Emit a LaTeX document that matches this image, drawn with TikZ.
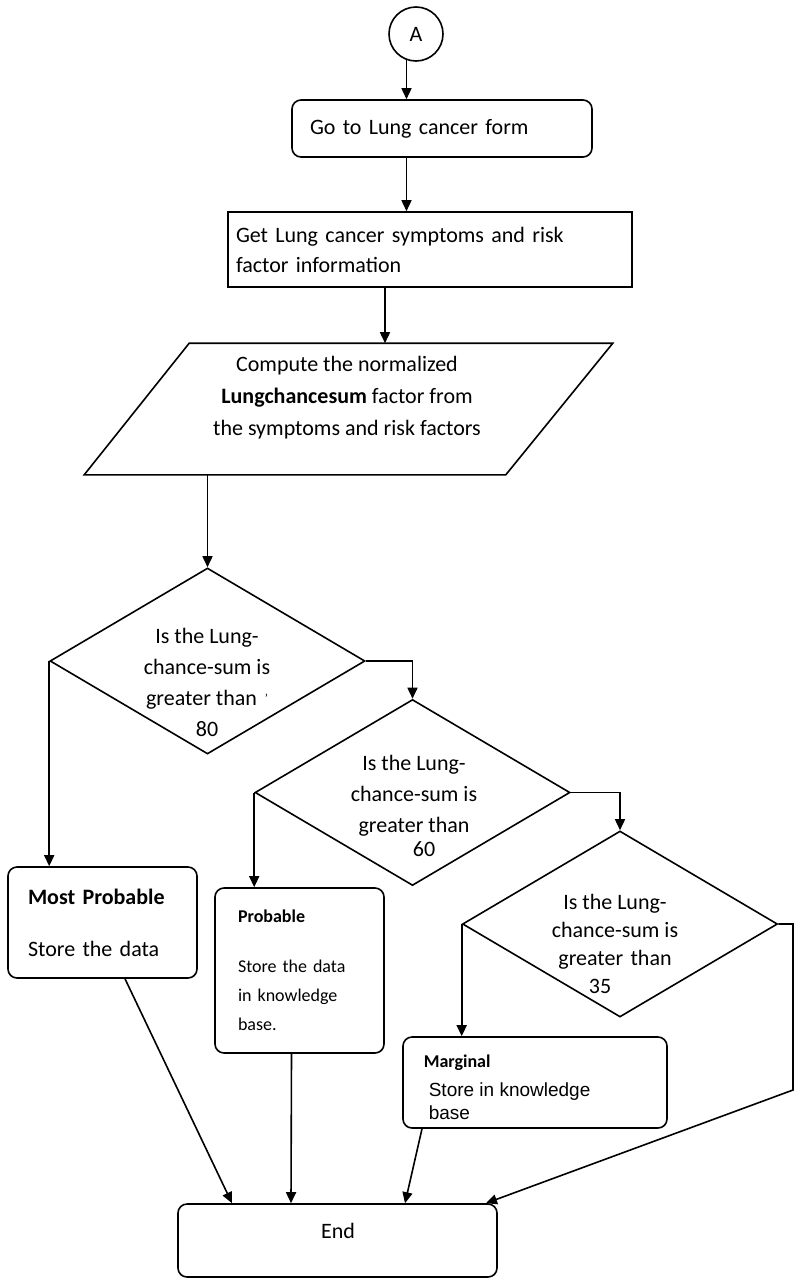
\documentclass[tikz,border=0pt]{standalone}
\usepackage{fontspec}
\setmainfont{Carlito}
\newfontfamily\arialf{Liberation Sans}
\usetikzlibrary{arrows.meta,shapes.geometric,calc}
\begin{document}
\begin{tikzpicture}[x=1pt,y=-1pt,
  line width=1.6pt,
  arr/.style={-{Triangle[length=11pt,width=10pt]}},
  rbox/.style={draw, rounded corners=9pt, inner sep=0pt},
  dia/.style={draw, diamond, inner sep=0pt, minimum width=315pt, minimum height=186pt},
  txt/.style={inner sep=0pt, align=center, font=\fontsize{22}{31}\selectfont},
]
\useasboundingbox (0,0) rectangle (795,1280);

% start connector
\node[draw, circle, minimum size=54pt, inner sep=0pt, font=\fontsize{22}{22}\selectfont] (A) at (416,34) {A};

% box 1
\node[rbox, minimum width=300pt, minimum height=57pt, inner xsep=18pt, text width=264pt, align=left,
      font=\fontsize{22}{30}\selectfont] (b1) at (442,128.5) {Go to Lung cancer form};

% box 2
\node[draw, inner sep=0pt, inner xsep=8pt, minimum width=404pt, minimum height=75pt, text width=388pt, align=left,
      font=\fontsize{22}{30}\selectfont] (b2) at (430,249.5) {Get Lung cancer symptoms and risk\\factor information};

% parallelogram
\node[inner sep=0pt, minimum width=527pt, minimum height=130pt] (par) at (348.5,409) {};
\draw ($(par.north west)+(105,0)$) -- (par.north east) -- ($(par.south east)+(-107,0)$) -- (par.south west) -- cycle;
\node[txt, font=\fontsize{22}{32}\selectfont] (part) at (347,398) {Compute the normalized\\\textbf{Lungchancesum} factor from\\the symptoms and risk factors};

% diamonds
\node[dia] (d1) at (207.5,661) {};
\node[txt] (d1t) at (207,682) {Is the Lung-\\chance-sum is\\greater than\hspace{8pt}\raisebox{3pt}{\fontsize{12}{12}\selectfont '}\\80};

\node[dia] (d2) at (412.5,792.5) {};
\node[txt] (d2t) at (414,806) {Is the Lung-\\chance-sum is\\greater than\\[-7pt]\hspace*{20pt}60};

\node[dia] (d3) at (620,924) {};
\node[txt, font=\fontsize{22}{28}\selectfont] (d3t) at (615,944) {Is the Lung-\\chance-sum is\\greater\,\,than\\35\hspace*{30pt}};

% result boxes
\node[rbox, minimum width=189pt, minimum height=111pt, inner xsep=20pt, text width=149pt, align=left,
      font=\fontsize{22}{31}\selectfont] (mp) at (102.5,922.5) {\textbf{Most Probable}\\[21pt]Store the data};

\node[rbox, minimum width=169pt, minimum height=165pt, inner xsep=23pt, text width=123pt, align=left,
      font=\fontsize{18}{29}\selectfont] (pr) at (299.5,970.5) {\textbf{Probable}\\[21pt]Store the data\\in knowledge\\base.};

\node[rbox, minimum width=264pt, minimum height=91pt] (mg) at (535,1082.5) {};
\node[inner sep=0pt, anchor=west, font=\fontsize{18}{18}\selectfont\bfseries] (mgt) at (423,1063) {Marginal};
\node[inner sep=0pt, anchor=north west, align=left, font=\fontsize{19}{23}\arialf] (mgt2) at (428,1082) {Store in knowledge\\base};

\node[rbox, minimum width=319pt, minimum height=73pt] (end) at (337.5,1240.5) {};
\node[txt] (endt) at (338,1231) {End};

% connectors
\draw[arr] (A.-110) -- (A.-110 |- b1.north);
\draw[arr] (A.-110 |- b1.south) -- (A.-110 |- b2.north);
\coordinate (c1) at (385,0);
\draw[arr] (c1 |- b2.south) -- (c1 |- par.north);
\draw[arr] (d1.north |- par.south) -- (d1.north);
\draw[arr] (d1.east) -| (d2.north);
\draw[arr] (d2.east) -| (d3.north);
\draw[arr] (d1.west) -- (d1.west |- mp.north);
\draw[arr] (d2.west) -- (d2.west |- pr.north);
\draw[arr] (d3.west) -- (d3.west |- mg.north);
\draw[arr] ($(mp.south)+(22.5,0)$) -- ($(end.north)+(-105.5,0)$);
\draw[arr] ($(pr.south)+(-8,0)$) -- ($(end.north)+(-46.5,0)$);
\draw[arr] ($(mg.south)+(-113,0)$) -- ($(end.north)+(67.5,0)$);
\coordinate (r1) at (793,1090);
\draw[arr] (d3.east) -- (d3.east -| r1) -- (r1) -- ($(end.north)+(148.5,0)$);
\end{tikzpicture}
\end{document}
